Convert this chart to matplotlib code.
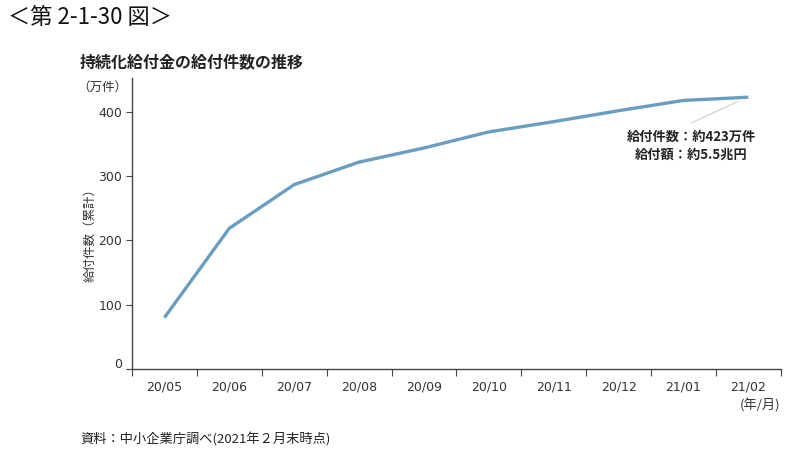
import matplotlib
matplotlib.use("Agg")
import matplotlib.pyplot as plt
import matplotlib.transforms as mtransforms
import numpy as np

plt.rcParams['font.family'] = ['DejaVu Sans', 'Noto Sans CJK JP']

months = ["20/05", "20/06", "20/07", "20/08", "20/09", "20/10", "20/11", "20/12", "21/01", "21/02"]
counts = [80, 219, 287, 322, 344, 369, 385, 402, 418, 423]
yticks = [0, 100, 200, 300, 400]

CJK = ['Noto Sans CJK JP', 'DejaVu Sans']
line_color = '#6a9ec0'
axis_color = '#444444'

fig = plt.figure(figsize=(8, 4.62), dpi=100)
ax = fig.add_axes([0.165, 0.2013, 0.811, 0.630])

x = np.arange(len(months))
ax.plot(x, counts, color=line_color, lw=2.4, solid_capstyle='butt')

ax.set_xlim(-0.5, len(months) - 0.5)
ax.set_ylim(0, 453)

for s in ['top', 'right']:
    ax.spines[s].set_visible(False)
for s in ['left', 'bottom']:
    ax.spines[s].set_color(axis_color)
    ax.spines[s].set_linewidth(1.0)

ax.set_yticks(yticks)
ax.set_yticklabels([str(v) for v in yticks], fontsize=9, color='#333333')
ax.tick_params(axis='y', length=4, color=axis_color, pad=3)
# shift the 0 label upward slightly as in the reference
lbl0 = ax.get_yticklabels()[0]
lbl0.set_transform(lbl0.get_transform() + mtransforms.ScaledTranslation(0, 6/100, fig.dpi_scale_trans))

ax.set_xticks(np.arange(-0.5, len(months) + 0.5, 1.0))
ax.set_xticklabels([])
ax.tick_params(axis='x', length=5, color=axis_color, direction='out')
ax.set_xticks(x, minor=True)
ax.set_xticklabels(months, minor=True, fontsize=9, color='#333333')
ax.tick_params(axis='x', which='minor', length=0, pad=8)

# annotation
ax.annotate('', xy=(8.83, 416), xytext=(8.12, 383),
            arrowprops=dict(arrowstyle='-', color='#cccccc', lw=0.8,
                            shrinkA=0, shrinkB=0))
ax.text(8.12, 347, '給付件数：約423万件\n給付額：約5.5兆円', ha='center', va='center',
        fontsize=9.5, fontweight='bold', family=CJK, color='#222222', linespacing=1.35)

# texts in figure coords (pixel-based)
def fx(px):
    return px / 800
def fy(py):
    return 1 - py / 462

fig.text(fx(8), fy(18), '＜第 2-1-30 図＞', fontsize=16, family=CJK, va='center', ha='left', color='#111111')
fig.text(fx(80), fy(62), '持続化給付金の給付件数の推移', fontsize=11.5, fontweight='bold', family=CJK,
         va='center', ha='left', color='#222222')
fig.text(fx(127), fy(87), '（万件）', fontsize=9, family=CJK, va='center', ha='right', color='#333333')
fig.text(fx(90), fy(232), '給付件数（累計）', fontsize=9, family=CJK, va='center', ha='center',
         rotation=90, color='#333333')
fig.text(fx(780), fy(406), '(年/月)', fontsize=9.5, family=CJK, va='center', ha='right', color='#333333')
fig.text(fx(80), fy(440), '資料：中小企業庁調べ(2021年２月末時点)', fontsize=9.5, family=CJK,
         va='center', ha='left', color='#222222')

fig.savefig('out.png', dpi=100)
